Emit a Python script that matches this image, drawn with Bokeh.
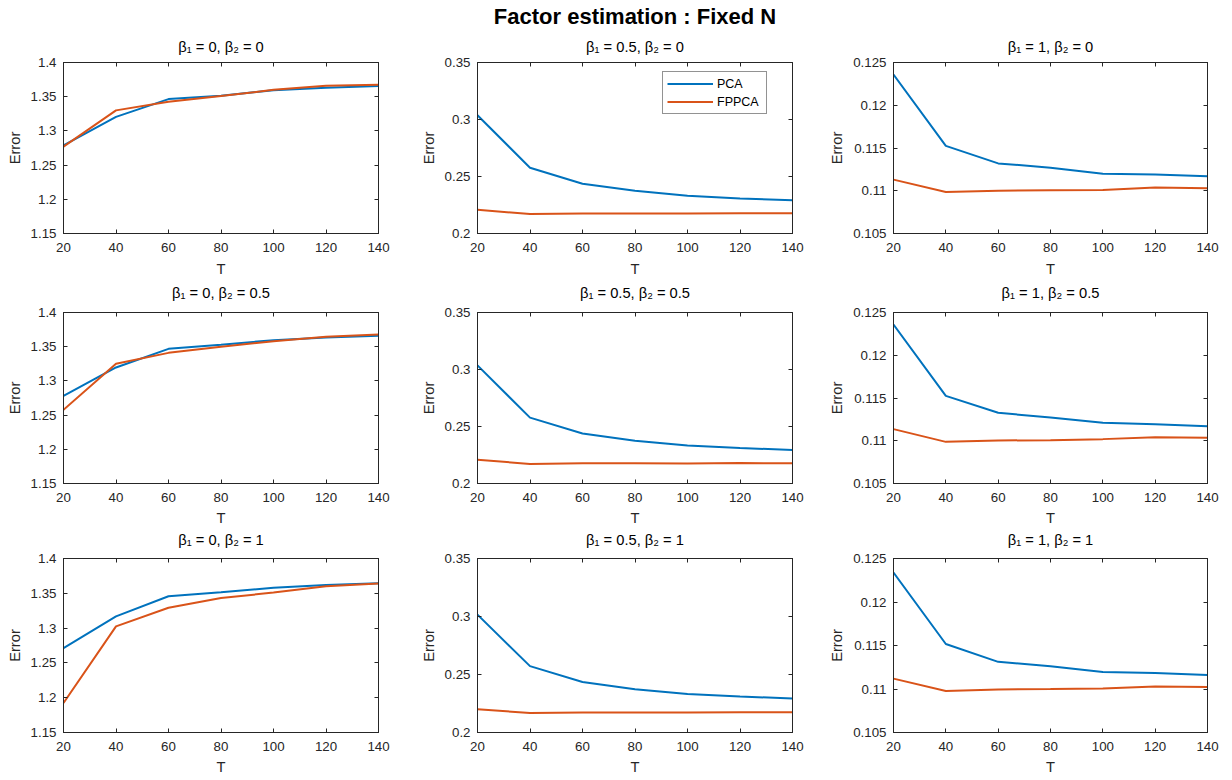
from bokeh.plotting import figure
from bokeh.layouts import row, column
from bokeh.models import (LinearAxis, FixedTicker, Range1d, Title, Legend,
                          CustomJSTickFormatter)
from bokeh.embed import file_html
from bokeh.resources import INLINE

# ---------------- data ----------------
T = [20, 40, 60, 80, 100, 120, 140]
x_ticks = [20, 40, 60, 80, 100, 120, 140]
beta1_labels = ["0", "0.5", "1"]
beta2_labels = ["0", "0.5", "1"]
series_names = ["PCA", "FPPCA"]
main_title = "Factor estimation : Fixed N"

# beta1 = 0
pca_b1_0_b2_0 = [1.279, 1.3205, 1.3465, 1.3515, 1.3595, 1.3630, 1.3655]
fppca_b1_0_b2_0 = [1.2770, 1.3300, 1.3425, 1.3510, 1.3600, 1.3660, 1.3673]
pca_b1_0_b2_05 = [1.2780, 1.3196, 1.3469, 1.3528, 1.3596, 1.3634, 1.3659]
fppca_b1_0_b2_05 = [1.2577, 1.3250, 1.3410, 1.3498, 1.3580, 1.3644, 1.3678]
pca_b1_0_b2_1 = [1.2712, 1.3168, 1.3457, 1.3515, 1.3580, 1.3618, 1.3646]
fppca_b1_0_b2_1 = [1.1923, 1.3024, 1.3293, 1.3433, 1.3510, 1.3600, 1.3640]

# beta1 = 0.5
pca_b1_05_b2_0 = [0.3037, 0.2577, 0.2436, 0.2375, 0.2331, 0.2308, 0.2292]
fppca_b1_05_b2_0 = [0.2208, 0.2171, 0.2176, 0.2176, 0.2175, 0.2178, 0.2178]
pca_b1_05_b2_05 = [0.3036, 0.2578, 0.2438, 0.2374, 0.2333, 0.2311, 0.2294]
fppca_b1_05_b2_05 = [0.2208, 0.2172, 0.2177, 0.2177, 0.2176, 0.2179, 0.2178]
pca_b1_05_b2_1 = [0.3016, 0.2572, 0.2435, 0.2372, 0.2331, 0.2310, 0.2293]
fppca_b1_05_b2_1 = [0.2201, 0.2168, 0.2172, 0.2172, 0.2172, 0.2175, 0.2174]

# beta1 = 1
pca_b1_1_b2_0 = [0.1236, 0.11525, 0.1132, 0.1127, 0.1120, 0.1119, 0.1117]
fppca_b1_1_b2_0 = [0.1113, 0.10985, 0.1100, 0.11005, 0.1101, 0.11038, 0.1103]
pca_b1_1_b2_05 = [0.1236, 0.11525, 0.11327, 0.11272, 0.1121, 0.11194, 0.1117]
fppca_b1_1_b2_05 = [0.11136, 0.10987, 0.11003, 0.11007, 0.11019, 0.11042, 0.11034]
pca_b1_1_b2_1 = [0.12338, 0.11517, 0.11312, 0.11262, 0.11196, 0.11185, 0.11161]
fppca_b1_1_b2_1 = [0.11119, 0.10976, 0.10995, 0.10999, 0.11007, 0.1103, 0.11022]

y_ticks_b1_0 = [1.15, 1.2, 1.25, 1.3, 1.35, 1.4]
y_tick_labels_b1_0 = ["1.15", "1.2", "1.25", "1.3", "1.35", "1.4"]
y_ticks_b1_05 = [0.2, 0.25, 0.3, 0.35]
y_tick_labels_b1_05 = ["0.2", "0.25", "0.3", "0.35"]
y_ticks_b1_1 = [0.105, 0.11, 0.115, 0.12, 0.125]
y_tick_labels_b1_1 = ["0.105", "0.11", "0.115", "0.12", "0.125"]

pca_data = [[pca_b1_0_b2_0, pca_b1_05_b2_0, pca_b1_1_b2_0],
            [pca_b1_0_b2_05, pca_b1_05_b2_05, pca_b1_1_b2_05],
            [pca_b1_0_b2_1, pca_b1_05_b2_1, pca_b1_1_b2_1]]
fppca_data = [[fppca_b1_0_b2_0, fppca_b1_05_b2_0, fppca_b1_1_b2_0],
              [fppca_b1_0_b2_05, fppca_b1_05_b2_05, fppca_b1_1_b2_05],
              [fppca_b1_0_b2_1, fppca_b1_05_b2_1, fppca_b1_1_b2_1]]
col_yticks = [y_ticks_b1_0, y_ticks_b1_05, y_ticks_b1_1]
col_ylabels = [y_tick_labels_b1_0, y_tick_labels_b1_05, y_tick_labels_b1_1]

# ---------------- style / layout ----------------
FONT = "Liberation Sans"
AX = "#262626"
C_PCA = "#0072BD"
C_FPPCA = "#D95319"
FRAME_W = 315
frame_h = [171, 171, 174]
border_l = [63, 61, 66]
border_r = [38, 34, 20]
border_t = [62, 8, 8]
border_b = [71, 67, 46]
xlabel_standoff = [6, 5, 5]
# standoff of the panel title of row i (row 0: above its plot; rows 1, 2:
# placed under the x-axis label of the plot above, to share the gap)
sub_standoff = [15, 6, 3]


def empty_axis(ticks):
    ax = LinearAxis(ticker=FixedTicker(ticks=ticks),
                    formatter=CustomJSTickFormatter(code="return ''"))
    ax.major_label_text_font_size = "0px"
    ax.major_label_standoff = 0
    ax.major_tick_in = 4
    ax.major_tick_out = 0
    ax.minor_tick_line_color = None
    ax.axis_line_color = AX
    ax.major_tick_line_color = AX
    return ax


def panel_title(i, j):
    return Title(text="β₁ = %s, β₂ = %s" % (beta1_labels[j], beta2_labels[i]),
                 align="center", text_font=FONT, text_font_size="14.7px",
                 text_font_style="normal", text_color="black",
                 standoff=sub_standoff[i])


figs_grid = []
for i in range(3):
    figs = []
    for j in range(3):
        yt = col_yticks[j]
        p = figure(width=border_l[j] + FRAME_W + border_r[j],
                   height=border_t[i] + frame_h[i] + border_b[i],
                   x_range=Range1d(T[0], T[-1]),
                   y_range=Range1d(yt[0], yt[-1]),
                   output_backend="svg", toolbar_location=None,
                   title_location=None,
                   min_border_left=border_l[j], min_border_right=border_r[j],
                   min_border_top=border_t[i], min_border_bottom=border_b[i],
                   background_fill_color="white", border_fill_color="white")
        p.grid.visible = False
        p.outline_line_color = AX
        p.xaxis.ticker = FixedTicker(ticks=x_ticks)
        p.yaxis.ticker = FixedTicker(ticks=yt)
        p.yaxis.major_label_overrides = {v: s for v, s in zip(yt, col_ylabels[j])}
        p.xaxis.axis_label = "T"
        p.yaxis.axis_label = "Error"
        for ax in (p.xaxis[0], p.yaxis[0]):
            ax.major_tick_in = 4
            ax.major_tick_out = 0
            ax.minor_tick_line_color = None
            ax.axis_line_color = AX
            ax.major_tick_line_color = AX
            ax.major_label_text_font = FONT
            ax.major_label_text_font_size = "13.3px"
            ax.major_label_text_color = AX
            ax.axis_label_text_font = FONT
            ax.axis_label_text_font_size = "14.7px"
            ax.axis_label_text_font_style = "normal"
            ax.axis_label_text_color = AX
        p.xaxis.major_label_standoff = 9
        p.xaxis.axis_label_standoff = xlabel_standoff[i]
        p.yaxis.major_label_standoff = 7
        p.yaxis.axis_label_standoff = 5
        p.add_layout(empty_axis(x_ticks), "above")
        p.add_layout(empty_axis(yt), "right")

        if i == 0:
            p.add_layout(panel_title(0, j), "above")
        if i < 2:
            p.add_layout(panel_title(i + 1, j), "below")
        if i == 0 and j == 1:
            mt = Title(text=main_title, align="center", text_font=FONT,
                       text_font_size="22px", text_font_style="bold",
                       text_color="black", standoff=1)
            p.add_layout(mt, "above")

        r1 = p.line(T, pca_data[i][j], line_color=C_PCA, line_width=2)
        r2 = p.line(T, fppca_data[i][j], line_color=C_FPPCA, line_width=2)
        if i == 0 and j == 1:
            lg = Legend(items=[(series_names[0], [r1]), (series_names[1], [r2])],
                        location=(185, 119))
            lg.label_text_font = FONT
            lg.label_text_font_size = "12.5px"
            lg.label_text_color = "black"
            lg.glyph_width = 46
            lg.glyph_height = 15
            lg.label_height = 15
            lg.label_width = 45
            lg.spacing = 3
            lg.padding = 4
            lg.margin = 0
            lg.label_standoff = 4
            lg.border_line_color = AX
            lg.border_line_width = 1
            lg.background_fill_color = "white"
            lg.background_fill_alpha = 1
            p.add_layout(lg, "center")
        figs.append(p)
    figs_grid.append(figs)

layout = column(*[row(*figs) for figs in figs_grid])
open("out.html", "w").write(file_html(layout, INLINE))
